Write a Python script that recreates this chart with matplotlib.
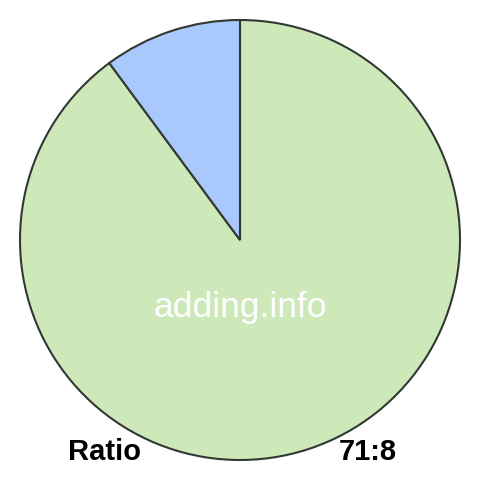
import matplotlib.pyplot as plt

labels = ['71', '8']
values = [71, 8]
colors = ['#cde8b9', '#a9c8fc']

fig = plt.figure(figsize=(4.8, 4.8), dpi=100)
ax = fig.add_axes((0, 0, 1, 1))

ax.pie(values, colors=colors, startangle=90, counterclock=False,
       center=(240, 240), radius=220, frame=True,
       wedgeprops=dict(edgecolor='#333833', linewidth=1.5))
ax.set_xlim(0, 480)
ax.set_ylim(0, 480)
ax.set_aspect('equal')
ax.axis('off')

ax.text(240, 172, 'adding.info', color='white', fontsize=25.5,
        family='Liberation Sans', ha='center', va='center')
ax.text(68, 28, 'Ratio', color='black', fontsize=21, fontweight='bold',
        family='Liberation Sans', ha='left', va='center')
ax.text(397, 28, ':'.join(labels), color='black', fontsize=21, fontweight='bold',
        family='Liberation Sans', ha='right', va='center')

fig.savefig('out.png', dpi=100)
